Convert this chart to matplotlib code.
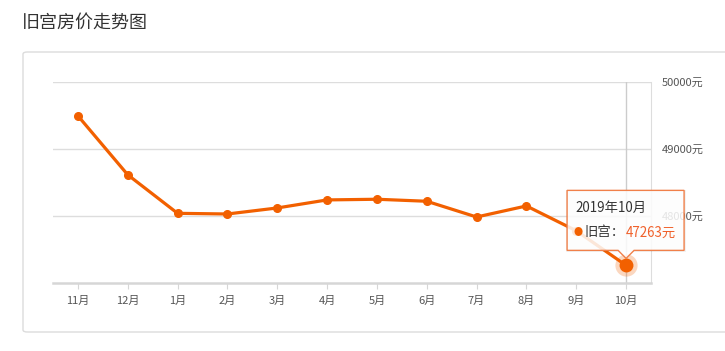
import matplotlib.pyplot as plt
from matplotlib.patches import FancyBboxPatch, Polygon
from matplotlib.transforms import IdentityTransform

plt.rcParams['font.family'] = ['Noto Sans CJK SC', 'DejaVu Sans']

# -------------------------------
# data
# -------------------------------
months = ['11月', '12月', '1月', '2月', '3月', '4月', '5月', '6月', '7月', '8月', '9月', '10月']
prices = [49495, 48615, 48040, 48030, 48120, 48240, 48250, 48220, 47985, 48150, 47780, 47263]
y_ticks = [48000, 49000, 50000]
y_labels = ['48000元', '49000元', '50000元']
title = '旧宫房价走势图'
series_name = '旧宫'
tip_title = '2019年10月'

W, H = 725, 351
orange = '#f26000'

fig = plt.figure(figsize=(W / 100, H / 100), dpi=100)
fig.patch.set_facecolor('white')

# card border
card = FancyBboxPatch((23 / W, 1 - 332 / H), 720 / W, 280 / H,
                      boxstyle='round,pad=0,rounding_size=0.006',
                      transform=fig.transFigure, fc='none', ec='#dcdcdc', lw=1, zorder=-1)
fig.patches.append(card)

fig.text(22 / W, 1 - 23 / H, title, fontsize=13, color='#333333', va='center', ha='left')

ax = fig.add_axes([53 / W, 1 - 283 / H, 598 / W, 201 / H])
ax.patch.set_alpha(0)
x = list(range(len(months)))
ax.set_xlim(-0.5, len(months) - 0.5)
ax.set_ylim(47000, 50000)

for v in y_ticks:
    ax.axhline(v, color='#dddddd', lw=1, zorder=1)
ax.axvline(x[-1], color='#cccccc', lw=1, zorder=1)

ax.plot(x, prices, color=orange, lw=2.3, marker='o', ms=5.5, zorder=3)
ax.plot(x[-1], prices[-1], 'o', color=orange, ms=16, alpha=0.25, mec='none', zorder=4)
ax.plot(x[-1], prices[-1], 'o', color=orange, ms=10, mec='none', zorder=5)

for s in ['top', 'left']:
    ax.spines[s].set_visible(False)
ax.spines['right'].set_color('#dddddd')
ax.spines['bottom'].set_color('#d6d6d6')
ax.spines['bottom'].set_linewidth(1.8)

ax.set_xticks(x)
ax.set_xticklabels(months)
ax.set_yticks(y_ticks)
ax.set_yticklabels(y_labels)
ax.yaxis.tick_right()
ax.tick_params(axis='x', colors='#d6d6d6', length=4, labelcolor='#555555', labelsize=8, pad=5)
ax.tick_params(axis='y', length=0, labelcolor='#555555', labelsize=8, pad=8)

# -------------------------------
# tooltip
# -------------------------------
fig.canvas.draw()
px, py = ax.transData.transform((x[-1], prices[-1]))
left, right = px - 59, px + 58
bottom, top = py + 15, py + 75
# soft shadow
shadow = [(left - 1, bottom - 2), (right + 2, bottom - 2), (right + 2, top), (left - 1, top)]
fig.patches.append(Polygon(shadow, closed=True, transform=IdentityTransform(), fc='#000000',
                           ec='none', alpha=0.05, zorder=9))
tip = [(left, bottom), (px - 8, bottom), (px, py + 7), (px + 8, bottom), (right, bottom),
       (right, top), (left, top)]
box = Polygon(tip, closed=True, transform=IdentityTransform(), fc=(1, 1, 1, 0.85),
              ec='#f0804a', lw=1, zorder=10)
fig.patches.append(box)
fig.text(left + 8, py + 57, tip_title, transform=IdentityTransform(), fontsize=9.6, color='#333333',
         va='center', ha='left', zorder=11)
fig.text(left + 11, py + 33, '●', transform=IdentityTransform(), fontsize=6.5, color=orange,
         va='center', ha='center', zorder=11)
fig.text(left + 17, py + 33, series_name + '：', transform=IdentityTransform(), fontsize=9.6,
         color='#333333', va='center', ha='left', zorder=11)
fig.text(px, py + 33, f'{prices[-1]}元', transform=IdentityTransform(), fontsize=9.6,
         color='#f0602a', va='center', ha='left', zorder=11)

fig.savefig('out.png', dpi=100, facecolor='white')
